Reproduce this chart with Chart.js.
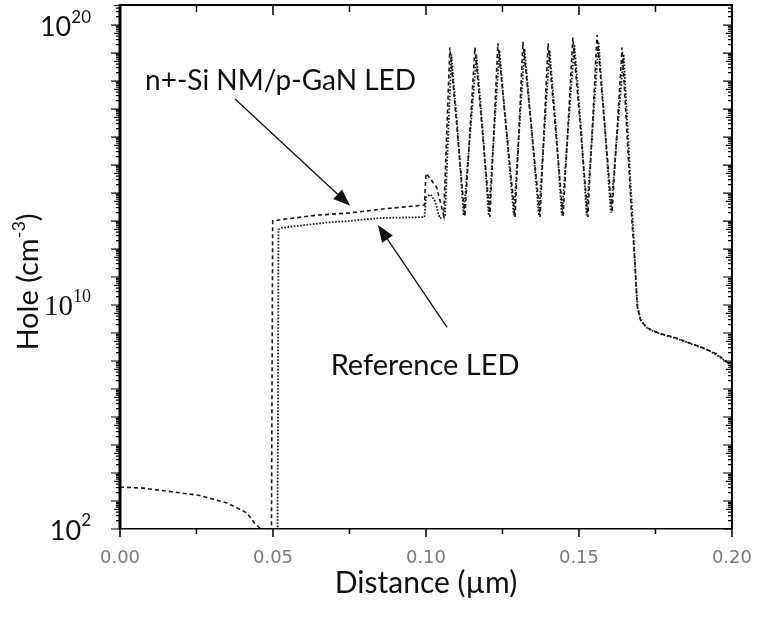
<!DOCTYPE html>
<html>
<head>
<meta charset="utf-8">
<script src="https://cdn.jsdelivr.net/npm/chart.js@4/dist/chart.umd.min.js"></script>
<style>
  html, body { margin: 0; padding: 0; background: #fff; }
  #wrap { width: 771px; height: 637px; }
</style>
</head>
<body>
<div id="wrap"><canvas id="c" width="771" height="637"></canvas></div>
<script>
// Hole concentration profiles (cm^-3) versus depth (µm)
const siDistance = [0, 0.0075, 0.017, 0.026, 0.035, 0.0415, 0.044, 0.046, 0.0495, 0.0499, 0.0539, 0.0644, 0.0752, 0.0859, 0.0995,
  0.1, 0.1015, 0.1035, 0.1058, 0.1078, 0.1127, 0.116, 0.1209, 0.1235, 0.1291, 0.1317, 0.1373, 0.1399, 0.1448, 0.148, 0.1529,
  0.1559, 0.1608, 0.1641, 0.1673, 0.1683, 0.169, 0.17, 0.172, 0.176, 0.181, 0.186, 0.191, 0.195, 0.198, 0.2];
const siHole = [3.16e3, 2.88e3, 2.14e3, 1.58e3, 851, 372, 162, 100, 89, 1.0e13, 1.17e13, 1.62e13, 1.95e13, 2.69e13, 3.72e13,
  5.01e14, 3.16e14, 1.58e14, 1.58e13, 1.58e19, 1.41e13, 1.58e19, 1.41e13, 2.24e19, 1.41e13, 2.51e19, 1.41e13, 2.24e19, 1.41e13, 3.55e19, 1.41e13,
  4.47e19, 2.0e13, 1.58e19, 1.0e13, 3.16e11, 1e10, 3.16e9, 1.58e9, 1e9, 7.08e8, 4.47e8, 2.82e8, 1.78e8, 1e8, 6.31e7];

const refDistance = [0.0515, 0.0518, 0.0525, 0.06, 0.068, 0.0752, 0.08, 0.0843, 0.09, 0.0995,
  0.1, 0.1015, 0.103, 0.1045, 0.1062, 0.1083, 0.1103, 0.1123, 0.1165, 0.1185, 0.1205, 0.124, 0.1262, 0.1287, 0.1322, 0.1345,
  0.1369, 0.1404, 0.1425, 0.1444, 0.1485, 0.1507, 0.1525, 0.1564, 0.1585, 0.1604, 0.1646,
  0.1668, 0.1678, 0.1685, 0.1692, 0.1702, 0.1725, 0.177, 0.182, 0.187, 0.192, 0.196, 0.199, 0.2];
const refHole = [89, 5.01e12, 5.62e12, 7.08e12, 8.91e12, 1e13, 1.15e13, 1.26e13, 1.32e13, 1.38e13,
  7.08e13, 8.91e13, 5.01e13, 1.26e13, 1.41e13, 8.91e18, 2e16, 1.58e13, 8.91e18, 2e16, 1.58e13, 1.26e19, 2e16, 1.58e13, 1.41e19, 2e16,
  1.58e13, 1.26e19, 2e16, 1.58e13, 2e19, 2e16, 1.58e13, 2.51e19, 2e16, 2e13, 8.91e18,
  3.16e14, 3.98e12, 1e11, 7.94e9, 2.82e9, 1.41e9, 8.91e8, 6.31e8, 3.98e8, 2.51e8, 1.41e8, 7.94e7, 5.62e7];

const xTicks = [0, 0.05, 0.1, 0.15, 0.2];
const xMinorTicks = [0.025, 0.075, 0.125, 0.175];
const yLabelExponents = [2, 10, 20];

const seriesNames = ['n+-Si NM/p-GaN LED', 'Reference LED'];

// Layout of the plot frame
const FRAME = { left: 120, right: 732, top: 5, bottom: 529 };
const SANS = 'Lato, "Open Sans", sans-serif';

function pts(xs, ys) { return xs.map((x, i) => ({ x: x, y: ys[i] })); }

function drawArrow(ctx, x1, y1, x2, y2) {
  const ang = Math.atan2(y2 - y1, x2 - x1);
  const len = 17, half = 6.5;
  const bx = x2 - len * Math.cos(ang), by = y2 - len * Math.sin(ang);
  ctx.beginPath();
  ctx.moveTo(x1, y1);
  ctx.lineTo(bx, by);
  ctx.stroke();
  ctx.beginPath();
  ctx.moveTo(x2, y2);
  ctx.lineTo(bx + half * Math.sin(ang), by - half * Math.cos(ang));
  ctx.lineTo(bx - half * Math.sin(ang), by + half * Math.cos(ang));
  ctx.closePath();
  ctx.fill();
}

const decorations = {
  id: 'decorations',
  afterDraw(chart, args, opts) {
    const ctx = chart.ctx;
    const xs = chart.scales.x, ys = chart.scales.y;
    const a = chart.chartArea;
    ctx.save();

    // frame: top and right edges, heavier left edge
    ctx.strokeStyle = '#000';
    ctx.lineWidth = 2;
    ctx.beginPath();
    ctx.moveTo(a.left, a.top); ctx.lineTo(a.right, a.top); ctx.lineTo(a.right, a.bottom);
    ctx.stroke();
    ctx.lineWidth = 3;
    ctx.beginPath();
    ctx.moveTo(a.left, a.top - 1); ctx.lineTo(a.left, a.bottom);
    ctx.stroke();

    // x tick marks: outward on the bottom, inward on the top
    ctx.lineWidth = 1.5;
    const xMarks = xTicks.map(v => [v, 8]).concat(xMinorTicks.map(v => [v, 5]));
    xMarks.forEach(([v, len]) => {
      const px = xs.getPixelForValue(v);
      ctx.beginPath();
      ctx.moveTo(px, a.bottom); ctx.lineTo(px, a.bottom + len);
      ctx.moveTo(px, a.top); ctx.lineTo(px, a.top + len + 2);
      ctx.stroke();
    });

    // log y tick marks: outward on the left, inward on the right
    ctx.lineWidth = 1.2;
    const e0 = Math.floor(Math.log10(ys.min)), e1 = Math.ceil(Math.log10(ys.max));
    for (let e = e0; e <= e1; e++) {
      for (let m = 1; m <= 9; m++) {
        const v = m * Math.pow(10, e);
        if (v < ys.min || v > ys.max) continue;
        const py = ys.getPixelForValue(v);
        const len = m === 1 ? 9 : (m === 5 ? 6 : 4);
        ctx.beginPath();
        ctx.moveTo(a.left - len, py); ctx.lineTo(a.left, py);
        ctx.moveTo(a.right - len, py); ctx.lineTo(a.right, py);
        ctx.stroke();
      }
    }

    // y tick labels as powers of ten
    ctx.fillStyle = '#111';
    ctx.textBaseline = 'middle';
    yLabelExponents.forEach(e => {
      const py = ys.getPixelForValue(Math.pow(10, e));
      const serif = e === 10;
      const baseFont = serif ? '29px "Liberation Serif", serif' : '27px ' + SANS;
      const supFont = serif ? '18px "Liberation Serif", serif' : '17px ' + SANS;
      ctx.font = supFont;
      const sup = String(e);
      const supW = ctx.measureText(sup).width;
      ctx.font = baseFont;
      const baseW = ctx.measureText('10').width;
      const right = a.left - 29;
      ctx.textAlign = 'left';
      ctx.fillText('10', right - supW - baseW, py + 2);
      ctx.font = supFont;
      ctx.fillText(sup, right - supW, py - 8);
    });

    // y axis title with superscript
    ctx.save();
    ctx.translate(29, 282);
    ctx.rotate(-Math.PI / 2);
    ctx.textBaseline = 'middle';
    ctx.font = '29px ' + SANS;
    const t1 = 'Hole (cm', t2 = '-3', t3 = ')';
    const w1 = ctx.measureText(t1).width, w3 = ctx.measureText(t3).width;
    ctx.font = '18px ' + SANS;
    const w2 = ctx.measureText(t2).width;
    let sx = -(w1 + w2 + w3) / 2;
    ctx.textAlign = 'left';
    ctx.font = '29px ' + SANS;
    ctx.fillText(t1, sx, 0);
    ctx.font = '18px ' + SANS;
    ctx.fillText(t2, sx + w1, -10);
    ctx.font = '29px ' + SANS;
    ctx.fillText(t3, sx + w1 + w2, 0);
    ctx.restore();

    // series callouts
    ctx.fillStyle = '#111';
    ctx.strokeStyle = '#111';
    ctx.lineWidth = 1.3;
    (opts.callouts || []).forEach(c => {
      ctx.font = c.size + 'px ' + SANS;
      ctx.textAlign = c.align;
      ctx.textBaseline = 'middle';
      ctx.fillText(c.text, xs.getPixelForValue(c.tx), ys.getPixelForValue(c.ty));
      drawArrow(ctx, xs.getPixelForValue(c.from[0]), ys.getPixelForValue(c.from[1]),
        xs.getPixelForValue(c.to[0]), ys.getPixelForValue(c.to[1]));
    });

    ctx.restore();
  }
};

new Chart(document.getElementById('c'), {
  type: 'line',
  data: {
    datasets: [
      {
        label: seriesNames[0],
        data: pts(siDistance, siHole),
        borderColor: '#1a1a1a',
        borderWidth: 1.6,
        borderDash: [4, 3],
        pointRadius: 0,
        tension: 0
      },
      {
        label: seriesNames[1],
        data: pts(refDistance, refHole),
        borderColor: '#1a1a1a',
        borderWidth: 1.8,
        borderDash: [1.6, 1.6],
        pointRadius: 0,
        tension: 0
      }
    ]
  },
  options: {
    responsive: false,
    animation: false,
    devicePixelRatio: 1,
    layout: { padding: { left: 0, right: 771 - FRAME.right, top: FRAME.top, bottom: 0 } },
    plugins: {
      legend: { display: false },
      tooltip: { enabled: false },
      decorations: {
        callouts: [
          { text: seriesNames[0], size: 28, align: 'left', tx: 0.0082, ty: 1e18, from: [0.0376, 2.3e17], to: [0.0752, 3.5e13] },
          { text: seriesNames[1], size: 29, align: 'center', tx: 0.0997, ty: 7e7, from: [0.1069, 1.6e9], to: [0.0843, 7.2e12] }
        ]
      }
    },
    scales: {
      x: {
        type: 'linear',
        min: 0,
        max: 0.2,
        afterBuildTicks: s => { s.ticks = xTicks.map(v => ({ value: v })); },
        afterFit: s => { s.height = 637 - FRAME.bottom; },
        ticks: {
          callback: v => Number(v).toFixed(2),
          color: '#7a7a7a',
          font: { family: '"DejaVu Sans", sans-serif', size: 18 },
          padding: 19,
          maxRotation: 0,
          autoSkip: false
        },
        grid: { display: false, drawTicks: false },
        border: { display: true, color: '#000', width: 1.5, dash: [3, 1.5] },
        title: {
          display: true,
          text: 'Distance (µm)',
          color: '#111',
          font: { family: SANS, size: 30 },
          padding: { top: 0, bottom: 36 }
        }
      },
      y: {
        type: 'logarithmic',
        min: 100,
        max: 5.2e20,
        afterFit: s => { s.width = FRAME.left; },
        ticks: { display: false },
        grid: { display: false, drawTicks: false },
        border: { display: false }
      }
    }
  },
  plugins: [decorations]
});
</script>
</body>
</html>
